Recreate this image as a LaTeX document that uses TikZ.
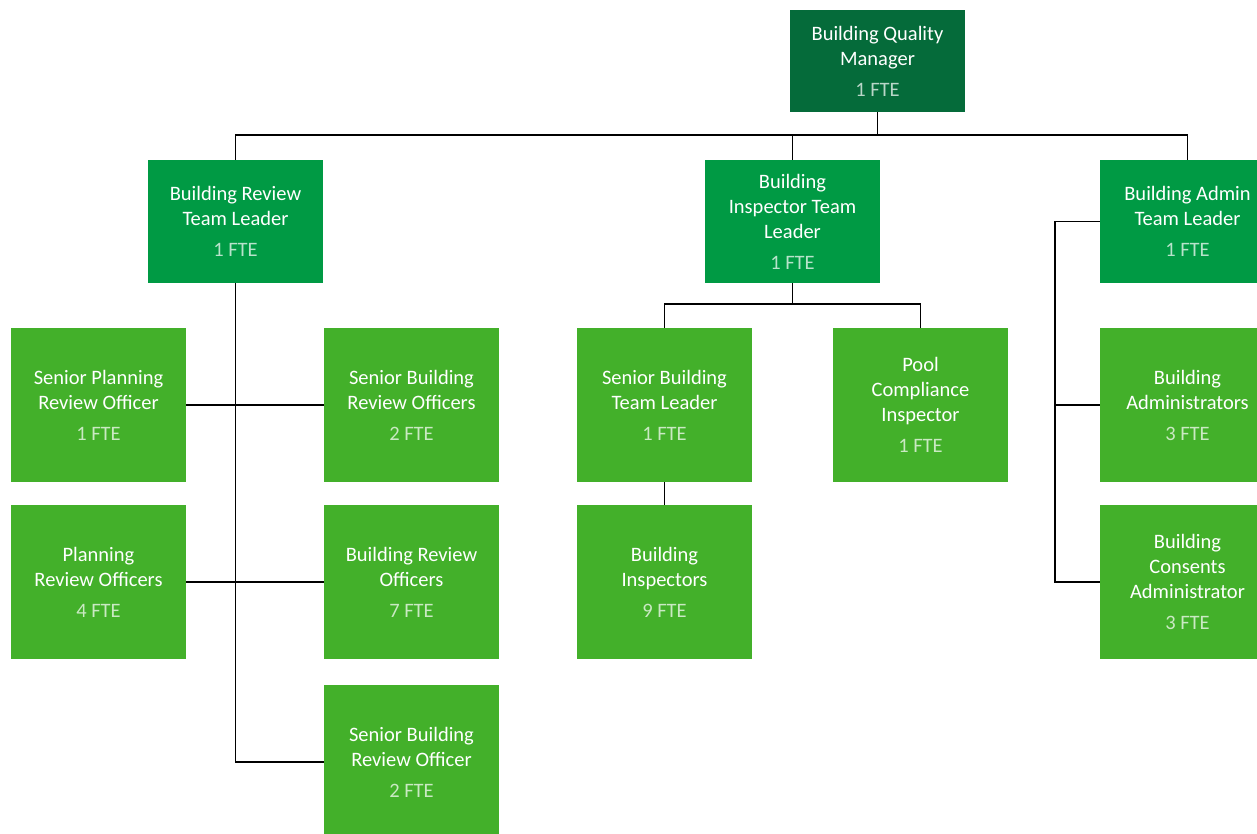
\documentclass[tikz,border=0pt]{standalone}
\usepackage{fontspec}
\setmainfont{Carlito}
\definecolor{cA}{RGB}{5,107,58}
\definecolor{cB}{RGB}{0,154,68}
\definecolor{cC}{RGB}{67,176,42}
\begin{document}
\begin{tikzpicture}[x=1pt,y=-1pt,
  box/.style={minimum width=175pt,inner sep=0pt,align=center,text=white,
    font=\fontsize{20.5}{25}\selectfont},
  lvA/.style={box,fill=cA,minimum height=102pt,execute at begin node=\colorlet{ftec}{white!72!cA}},
  lvB/.style={box,fill=cB,minimum height=123pt,execute at begin node=\colorlet{ftec}{white!72!cB}},
  lvC/.style={box,fill=cC,minimum height=154pt,execute at begin node=\colorlet{ftec}{white!72!cC}},
  conn/.style={draw=black,line width=1.1pt}]
\newcommand{\fte}[1]{\\[6pt]\textcolor{ftec}{#1}}
\clip (0,0) rectangle (1257,834);
\fill[white] (0,0) rectangle (1257,834);
% level 1
\node[lvA] (bqm) at (877.5,61) {Building Quality\\Manager\fte{1 FTE}};
% level 2
\node[lvB] (brtl) at (235.5,221.5) {Building Review\\Team Leader\fte{1 FTE}};
\node[lvB] (bitl) at (792.5,221.5) {Building\\Inspector Team\\Leader\fte{1 FTE}};
\node[lvB] (batl) at (1187.5,221.5) {Building Admin\\Team Leader\fte{1 FTE}};
% level 3 row 1
\node[lvC] (spro) at (98.5,405) {Senior Planning\\Review Officer\fte{1 FTE}};
\node[lvC] (sbros) at (411.5,405) {Senior Building\\Review Officers\fte{2 FTE}};
\node[lvC] (sbtl) at (664.5,405) {Senior Building\\Team Leader\fte{1 FTE}};
\node[lvC] (pci) at (920.5,405) {Pool\\Compliance\\Inspector\fte{1 FTE}};
\node[lvC] (ba) at (1187.5,405) {Building\\Administrators\fte{3 FTE}};
% row 2
\node[lvC] (pro) at (98.5,582) {Planning\\Review Officers\fte{4 FTE}};
\node[lvC] (bro) at (411.5,582) {Building Review\\Officers\fte{7 FTE}};
\node[lvC] (bi) at (664.5,582) {Building\\Inspectors\fte{9 FTE}};
\node[lvC] (bca) at (1187.5,582) {Building\\Consents\\Administrator\fte{3 FTE}};
% row 3
\node[lvC] (sbro) at (411.5,762) {Senior Building\\Review Officer\fte{2 FTE}};
% connectors
\coordinate (topbar) at (0,135);
\draw[conn] (bqm.south) -- (bqm.south |- topbar);
\draw[conn] (brtl.north) -- (brtl.north |- topbar) -- (batl.north |- topbar) -- (batl.north);
\draw[conn] (bitl.north) -- (bitl.north |- topbar);
% left branch
\draw[conn] (brtl.south) -- (brtl.south |- sbro.west) -- (sbro.west);
\draw[conn] (spro.east) -- (sbros.west);
\draw[conn] (pro.east) -- (bro.west);
% middle branch
\coordinate (midbar) at (0,304);
\draw[conn] (bitl.south) -- (bitl.south |- midbar);
\draw[conn] (sbtl.north) -- (sbtl.north |- midbar) -- (pci.north |- midbar) -- (pci.north);
\draw[conn] (sbtl.south) -- (bi.north);
% right branch
\coordinate (rx) at (1055,0);
\draw[conn] (batl.west) -- (rx |- batl.west) -- (rx |- bca.west) -- (bca.west);
\draw[conn] (rx |- ba.west) -- (ba.west);
\end{tikzpicture}
\end{document}
